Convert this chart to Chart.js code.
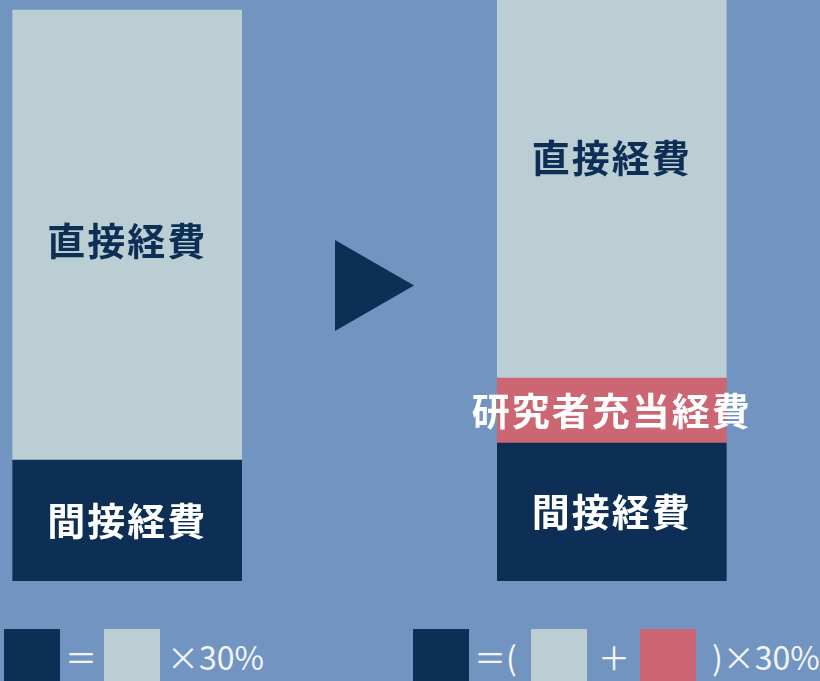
<!DOCTYPE html>
<html lang="ja">
<head>
<meta charset="utf-8">
<script src="https://cdn.jsdelivr.net/npm/chart.js@4.4.1/dist/chart.umd.min.js"></script>
<style>
  html, body { margin: 0; padding: 0; background: #7194c0; }
  #page { position: relative; width: 820px; height: 681px; background: #7194c0; overflow: hidden; }
  #chartBox { position: absolute; left: 0; top: 0; width: 820px; height: 581px; }
  .box { position: absolute; top: 629px; width: 56px; height: 56px; }
  .txt { position: absolute; top: 634px; color: #f2f5f8; font-family: "Noto Sans CJK JP", sans-serif;
         font-size: 32px; line-height: 44px; white-space: nowrap; }
</style>
</head>
<body>
<div id="page">
  <div id="chartBox"><canvas id="myChart"></canvas></div>

  <div class="box" style="left:4px;background:#0e2f55"></div>
  <div class="txt" style="left:65px">＝</div>
  <div class="box" style="left:104px;background:#bbced4"></div>
  <div class="txt" style="left:167px">×30%</div>

  <div class="box" style="left:413px;background:#0e2f55"></div>
  <div class="txt" style="left:474px">＝(</div>
  <div class="box" style="left:531px;background:#bbced4"></div>
  <div class="txt" style="left:598px">＋</div>
  <div class="box" style="left:640px;background:#cc6672"></div>
  <div class="txt" style="left:712px">)×30%</div>
</div>

<script>
// ***** datos *****
const categories = ["現行", "", "変更後"]
const indirectCost = [121, null, 138]     // 間接経費
const researcherCost = [null, null, 65]   // 研究者充当経費
const directCost = [450, null, 400]       // 直接経費
const yMax = 581

// ***** colores *****
const navy = "#0e2f55"
const pale = "#bbced4"
const rose = "#cc6672"

// etiquetas dentro de las barras
const barLabels = {
  id: "barLabels",
  afterDatasetsDraw(chart, args, opts) {
    const ctx = chart.ctx
    const area = chart.chartArea
    ctx.save()
    ctx.font = "bold 38px 'Noto Sans CJK JP', sans-serif"
    ctx.textAlign = "center"
    ctx.textBaseline = "middle"
    if ("letterSpacing" in ctx) ctx.letterSpacing = "2px"
    chart.data.datasets.forEach((ds, i) => {
      const meta = chart.getDatasetMeta(i)
      meta.data.forEach((bar, j) => {
        if (ds.data[j] == null) return
        const top = Math.max(bar.y, area.top)
        const shift = (opts.shift[i] && opts.shift[i][j]) || 0
        ctx.fillStyle = ds.textColor
        ctx.fillText(ds.label, bar.x, (top + bar.base) / 2 + shift)
      })
    })
    ctx.restore()
  }
}

// flecha entre las dos barras
const arrow = {
  id: "arrow",
  afterDatasetsDraw(chart) {
    const meta = chart.getDatasetMeta(0)
    const a = meta.data[0], b = meta.data[2]
    const mid = ((a.x + a.width / 2) + (b.x - b.width / 2)) / 2 + 5
    const cy = (chart.chartArea.top + chart.chartArea.bottom) / 2 - 5
    const ctx = chart.ctx
    ctx.save()
    ctx.fillStyle = navy
    ctx.beginPath()
    ctx.moveTo(mid - 39.5, cy - 45.5)
    ctx.lineTo(mid + 39.5, cy)
    ctx.lineTo(mid - 39.5, cy + 45.5)
    ctx.closePath()
    ctx.fill()
    ctx.restore()
  }
}

const ctx = document.getElementById("myChart").getContext("2d")
const myChart = new Chart(ctx, {
  type: "bar",
  data: {
    labels: categories,
    datasets: [
      { label: "間接経費", data: indirectCost, backgroundColor: navy, textColor: "#ffffff" },
      { label: "研究者充当経費", data: researcherCost, backgroundColor: rose, textColor: "#ffffff" },
      { label: "直接経費", data: directCost, backgroundColor: pale, textColor: navy }
    ]
  },
  options: {
    responsive: true,
    maintainAspectRatio: false,
    devicePixelRatio: 1,
    animation: false,
    layout: { padding: { left: 6, right: 87, top: 0, bottom: 0 } },
    datasets: { bar: { barThickness: 229, borderWidth: 0 } },
    scales: {
      x: { stacked: true, display: false },
      y: { stacked: true, display: false, min: 0, max: yMax }
    },
    plugins: {
      legend: { display: false },
      tooltip: { enabled: false },
      barLabels: { shift: { 0: [0, 0, 0], 2: [6, 0, -31] } }
    }
  },
  plugins: [barLabels, arrow]
})
</script>
</body>
</html>
